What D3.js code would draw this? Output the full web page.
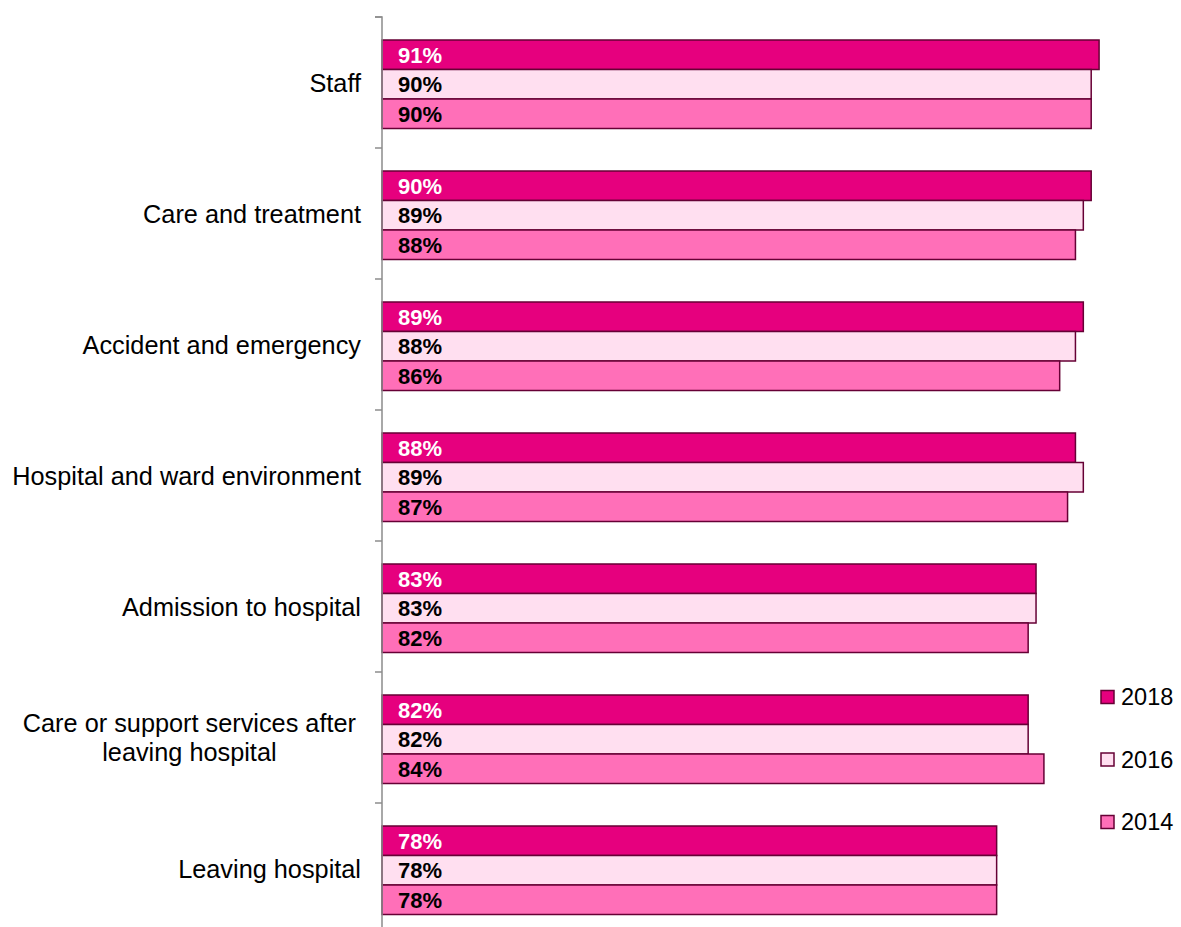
<!DOCTYPE html>
<html>
<head>
<meta charset="utf-8">
<script src="https://cdn.jsdelivr.net/npm/d3@7/dist/d3.min.js"></script>
<style>
  html, body { margin: 0; padding: 0; background: #fff; }
  svg { display: block; font-family: "Liberation Sans", Arial, sans-serif; }
</style>
</head>
<body>
<svg id="chart" width="1181" height="927"></svg>
<script>
// Survey themes, top to bottom
const categories = [
  "Staff",
  "Care and treatment",
  "Accident and emergency",
  "Hospital and ward environment",
  "Admission to hospital",
  "Care or support services after leaving hospital",
  "Leaving hospital"
];
// Wrapped category labels
const categoryLines = [
  ["Staff"],
  ["Care and treatment"],
  ["Accident and emergency"],
  ["Hospital and ward environment"],
  ["Admission to hospital"],
  ["Care or support services after", "leaving hospital"],
  ["Leaving hospital"]
];
const years = ["2018", "2016", "2014"];
// Percentage positive by year
const values2018 = [91, 90, 89, 88, 83, 82, 78];
const values2016 = [90, 89, 88, 89, 83, 82, 78];
const values2014 = [90, 88, 86, 87, 82, 84, 78];

const seriesValues = { "2018": values2018, "2016": values2016, "2014": values2014 };
const fillColor = { "2018": "#E6007E", "2016": "#FFDFF0", "2014": "#FF6FB8" };
const labelColor = { "2018": "#FFFFFF", "2016": "#000000", "2014": "#000000" };
const strokeColor = "#660035";

const svg = d3.select("#chart");

const x = d3.scaleLinear().domain([0, 100]).range([382, 1170]);
const y0 = d3.scaleBand().domain(categories).range([17, 934]).padding(0);
const y1 = d3.scaleBand().domain(years).range([23, 111.5]).padding(0);

const rows = categories.map((c, i) => ({
  category: c,
  lines: categoryLines[i],
  bars: years.map(yr => ({ year: yr, value: seriesValues[yr][i] }))
}));

// Bars
const groups = svg.append("g").selectAll("g")
  .data(rows).join("g")
  .attr("transform", d => `translate(0,${y0(d.category)})`);

groups.selectAll("rect")
  .data(d => d.bars).join("rect")
  .attr("x", x(0))
  .attr("y", d => y1(d.year))
  .attr("width", d => x(d.value) - x(0))
  .attr("height", y1.bandwidth())
  .attr("fill", d => fillColor[d.year])
  .attr("stroke", strokeColor)
  .attr("stroke-width", 1.5);

// Value labels inside bars
groups.selectAll("text.val")
  .data(d => d.bars).join("text")
  .attr("class", "val")
  .attr("x", x(0) + 16)
  .attr("y", d => y1(d.year) + y1.bandwidth() / 2 + 8)
  .attr("font-size", 22)
  .attr("font-weight", "bold")
  .attr("fill", d => labelColor[d.year])
  .text(d => d3.format(".0%")(d.value / 100));

// Category axis line with tick marks on band boundaries
const axisG = svg.append("g")
  .attr("transform", `translate(${x(0)},0)`)
  .call(d3.axisLeft(y0).tickSize(0).tickFormat(""));
axisG.selectAll(".tick").remove();
axisG.select(".domain").attr("stroke", "#8c8c8c").attr("stroke-width", 1.5)
  .attr("d", `M-7,${y0.range()[0]}H0V${y0.range()[1]}`);
axisG.selectAll("line.bound")
  .data(d3.range(categories.length + 1).map(i => y0.range()[0] + i * y0.step()))
  .join("line")
  .attr("class", "bound")
  .attr("x1", -7).attr("x2", 0)
  .attr("y1", d => d).attr("y2", d => d)
  .attr("stroke", "#8c8c8c").attr("stroke-width", 1.5);

// Category labels, multi-line blocks centred on each other and right-aligned
const catFont = 25.3;
const lineH = 29;
rows.forEach(r => {
  const cy = y0(r.category) + y0.bandwidth() / 2;
  const right = r.lines.length > 1 ? 356 : 361;
  const g = svg.append("g");
  const texts = r.lines.map((ln, j) =>
    g.append("text")
      .attr("font-size", catFont)
      .attr("fill", "#000")
      .attr("text-anchor", "middle")
      .attr("y", cy + 9 + (j - (r.lines.length - 1) / 2) * lineH)
      .text(ln));
  const maxW = d3.max(texts, t => t.node().getComputedTextLength());
  texts.forEach(t => t.attr("x", right - maxW / 2));
});

// Legend
const legend = svg.append("g").selectAll("g")
  .data(years).join("g")
  .attr("transform", (d, i) => `translate(1101,${690.5 + i * 62.5})`);
legend.append("rect")
  .attr("width", 13).attr("height", 13)
  .attr("fill", d => fillColor[d])
  .attr("stroke", strokeColor).attr("stroke-width", 1.5);
legend.append("text")
  .attr("x", 20).attr("y", 14.5)
  .attr("font-size", 23.5)
  .attr("fill", "#000")
  .text(d => d);
</script>
</body>
</html>
